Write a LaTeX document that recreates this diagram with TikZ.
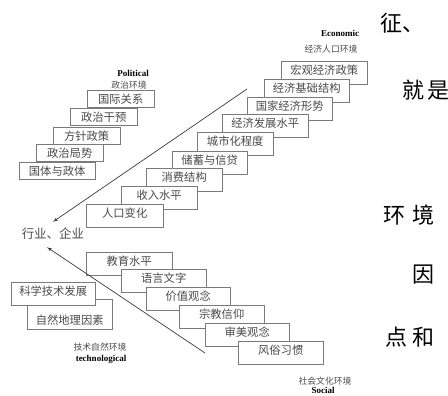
\documentclass[tikz,border=0pt]{standalone}
\usepackage{fontspec}
\setmainfont{Liberation Serif}
\newfontfamily\zh{Noto Sans CJK SC}
\usetikzlibrary{arrows}
\definecolor{boxgray}{HTML}{7A7A7A}
\definecolor{txtgray}{HTML}{4A4A4A}
\definecolor{arrowgray}{HTML}{3A3A3A}

\begin{document}
\begin{tikzpicture}[x=1pt,y=-1pt,>=latex',
  stair/.style={draw=boxgray, fill=white, anchor=north west, inner xsep=0pt, inner ysep=2pt,
    text height=11pt, text depth=8pt, text=txtgray, font=\zh\fontsize{11.3}{13}\selectfont},
  flat stair/.style={stair, text depth=2pt},
  title/.style={font=\bfseries\fontsize{9}{10}\selectfont},
  subtitle/.style={text=txtgray, font=\zh\fontsize{8.8}{10}\selectfont},
  side/.style={font=\zh\fontsize{22}{24}\selectfont}]
\useasboundingbox (0,0) rectangle (448,396);

%Politisch
\node (poltitle) [title] at (133,73) {Political};
\node (polsub) [subtitle] at (129,85) {政治环境};
\node (pol1) [flat stair, minimum width=67pt] at (87,90) {国际关系};
\node (pol2) [flat stair, minimum width=67pt] at (70,108) {政治干预};
\node (pol3) [flat stair, minimum width=67pt] at (53,127) {方针政策};
\node (pol4) [flat stair, minimum width=67pt] at (36,144) {政治局势};
\node (pol5) [flat stair, minimum width=76pt] at (19,162) {国体与政体};

%Wirtschaft
\node (ecotitle) [title] at (340,33) {Economic};
\node (ecosub) [subtitle] at (331,49) {经济人口环境};
\node (eco1) [stair, minimum width=86pt] at (281,61) {宏观经济政策};
\node (eco2) [stair, minimum width=85pt] at (264,79) {经济基础结构};
\node (eco3) [stair, minimum width=85pt] at (247,97) {国家经济形势};
\node (eco4) [stair, minimum width=86pt] at (222,114) {经济发展水平};
\node (eco5) [stair, minimum width=76pt] at (197,132) {城市化程度};
\node (eco6) [stair, minimum width=75pt] at (172,151) {储蓄与信贷};
\node (eco7) [stair, minimum width=76pt] at (146,168) {消费结构};
\node (eco8) [stair, minimum width=76pt] at (121,186) {收入水平};
\node (eco9) [stair, minimum width=77pt] at (86,204) {人口变化};

%Mitte
\node (ind) [inner sep=0pt, text height=9pt, text depth=3pt, text=txtgray,
  font=\zh\fontsize{12.5}{14}\selectfont] at (53,236) {行业、企业};

%Sozial
\node (soc1) [stair, minimum width=86pt] at (86,252) {教育水平};
\node (soc2) [stair, minimum width=85pt] at (121,269) {语言文字};
\node (soc3) [stair, minimum width=84pt] at (146,287) {价值观念};
\node (soc4) [stair, minimum width=85pt] at (179,305) {宗教信仰};
\node (soc5) [stair, minimum width=84pt] at (205,323) {审美观念};
\node (soc6) [stair, minimum width=85pt] at (238,341) {风俗习惯};
\node (socsub) [subtitle] at (325,381) {社会文化环境};
\node (soctitle) [title] at (323,390) {Social};

%Technik
\node (tec2) [stair, minimum width=85pt, text height=23pt, text depth=3pt] at (27,299) {自然地理因素};
\node (tec1) [stair, minimum width=84pt] at (11,282) {科学技术发展};
\node (tecsub) [subtitle] at (100,347) {技术自然环境};
\node (tectitle) [title] at (101,359) {technological};

%Pfeile
\coordinate (ecotail) at (247,89);
\coordinate (soctail) at (205,353);
\draw[->, arrowgray, line width=0.7pt] (ecotail) -- ([yshift=8pt]ind.north);
\draw[->, arrowgray, line width=0.7pt] (soctail) -- ([shift={(-6pt,-5pt)}]ind.south);

%Rand
\node (side1) [side] at (402,23) {征、};
\node (side2) [side] at (426,90) {就\hspace{3pt}是};
\node (side3) [side] at (409,215) {环\hspace{8pt}境};
\node (side4) [side] at (423,275) {因};
\node (side5) [side] at (410,337) {点\hspace{6pt}和};
\end{tikzpicture}
\end{document}
